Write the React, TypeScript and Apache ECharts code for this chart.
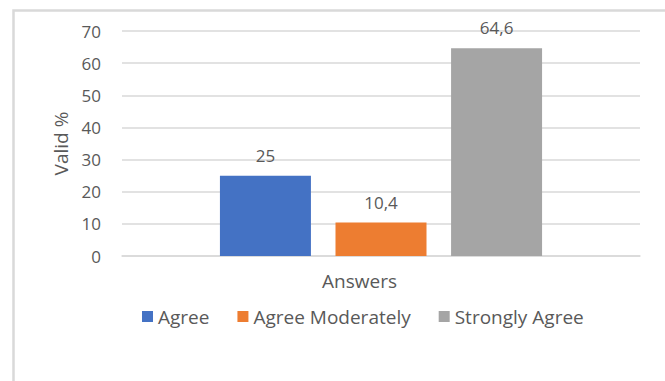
import React, { useEffect, useRef } from "react";
import * as echarts from "echarts";

const category = ["Answers"];
const seriesNames = ["Agree", "Agree Moderately", "Strongly Agree"];
const seriesValues = [25, 10.4, 64.6];
const seriesColors = ["#4472C4", "#ED7D31", "#A5A5A5"];
const yTicks = { min: 0, max: 70, interval: 10 };

const FONT = "Open Sans";
const TXT = "#595959";

export default function App() {
  const ref = useRef<HTMLDivElement>(null);
  useEffect(() => {
    if (!ref.current) return;
    const chart = echarts.init(ref.current, null, { renderer: "svg" });
    chart.setOption({
      animation: false,
      backgroundColor: "#ffffff",
      textStyle: { fontFamily: FONT, color: TXT },
      graphic: [
        {
          type: "rect",
          left: 11,
          top: 8,
          shape: { x: 0, y: 0, width: 720, height: 420 },
          style: { fill: "none", stroke: "#d9d9d9", lineWidth: 2.5 },
          silent: true,
        },
      ],
      grid: { left: 122, right: 25, top: 31, bottom: 125, containLabel: false },
      legend: {
        left: 137,
        top: 302,
        itemWidth: 11,
        itemHeight: 11,
        itemGap: 28,
        icon: "rect",
        textStyle: { fontFamily: FONT, fontSize: 19, color: TXT },
        data: seriesNames,
      },
      xAxis: {
        type: "category",
        data: category,
        name: category[0],
        nameLocation: "middle",
        nameGap: 15,
        nameTextStyle: { fontFamily: FONT, fontSize: 19, color: TXT, padding: [0, 43, 0, 0] },
        axisLine: { show: true, lineStyle: { color: "#d9d9d9", width: 1.5 } },
        axisTick: { show: false },
        axisLabel: { show: false },
      },
      yAxis: {
        type: "value",
        min: yTicks.min,
        max: yTicks.max,
        interval: yTicks.interval,
        name: "Valid %",
        nameLocation: "middle",
        nameGap: 52,
        nameTextStyle: { fontFamily: FONT, fontSize: 19, color: TXT },
        axisLine: { show: false },
        axisTick: { show: false },
        axisLabel: { fontFamily: FONT, fontSize: 17, color: TXT, margin: 21 },
        splitLine: { lineStyle: { color: "#d9d9d9", width: 1.5 } },
      },
      series: seriesNames.map((name, i) => ({
        name,
        type: "bar",
        data: [seriesValues[i]],
        barWidth: 91,
        barGap: "27%",
        itemStyle: { color: seriesColors[i] },
        label: {
          show: true,
          position: "top",
          distance: 12,
          fontFamily: FONT,
          fontSize: 17,
          color: TXT,
          formatter: (p: any) => String(p.value).replace(".", ","),
        },
      })),
    });
    return () => chart.dispose();
  }, []);
  return (
    <div
      ref={ref}
      style={{ position: "absolute", left: 0, top: 0, width: 665, height: 381 }}
    />
  );
}
